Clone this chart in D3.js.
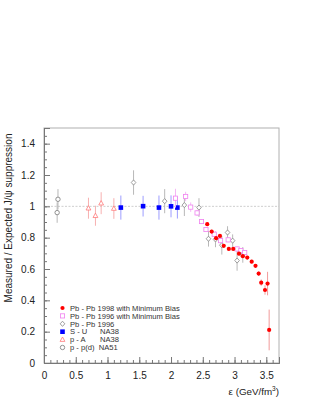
<!DOCTYPE html>
<html>
<head>
<meta charset="utf-8">
<script src="https://cdnjs.cloudflare.com/ajax/libs/d3/7.8.5/d3.min.js"></script>
<style>
  body { margin: 0; background: #fff; }
  svg text { font-family: "Liberation Sans", Arial, sans-serif; }
</style>
</head>
<body>
<script>
// [energy density, measured/expected, error]
const pbpb98 = [
  [2.57, 0.886, 0.012], [2.64, 0.839, 0.012], [2.71, 0.797, 0.012], [2.77, 0.811, 0.012],
  [2.83, 0.748, 0.012], [2.91, 0.728, 0.012], [2.98, 0.728, 0.012], [3.07, 0.698, 0.012],
  [3.13, 0.682, 0.012], [3.20, 0.673, 0.012], [3.27, 0.647, 0.012], [3.33, 0.620, 0.012],
  [3.38, 0.571, 0.015], [3.42, 0.513, 0.02], [3.48, 0.466, 0.03], [3.52, 0.507, 0.075],
  [3.545, 0.211, 0.13]
];
const pbpb96mb = [
  [2.07, 1.052, 0.06], [2.23, 1.063, 0.03], [2.31, 0.995, 0.03], [2.41, 0.958, 0.02],
  [2.48, 0.903, 0.015], [2.55, 0.852, 0.015], [2.68, 0.822, 0.015], [2.78, 0.781, 0.015],
  [2.90, 0.786, 0.015], [3.04, 0.728, 0.015], [3.10, 0.717, 0.015], [3.16, 0.705, 0.015]
];
const pbpb96 = [
  [1.41, 1.152, 0.078], [1.90, 1.033, 0.077], [2.21, 1.008, 0.07], [2.44, 0.992, 0.06],
  [2.59, 0.793, 0.05], [2.70, 0.789, 0.05], [2.80, 0.752, 0.06], [2.89, 0.833, 0.04],
  [2.97, 0.781, 0.04], [3.04, 0.654, 0.065], [3.13, 0.69, 0.05]
];
const su = [
  [1.21, 0.992, 0.077], [1.56, 1.001, 0.066], [1.81, 0.992, 0.077], [2.00, 1.0, 0.07], [2.10, 0.992, 0.07]
];
const pA = [
  [0.70, 0.988, 0.067], [0.81, 0.94, 0.064], [0.90, 1.02, 0.07], [1.10, 0.986, 0.066]
];
const pp = [
  [0.207, 0.96, 0.065], [0.22, 1.045, 0.065]
];

const xTicks = [0, 0.5, 1, 1.5, 2, 2.5, 3, 3.5];
const yTicks = [0, 0.2, 0.4, 0.6, 0.8, 1, 1.2, 1.4];

const series = [
  { name: "Pb - Pb 1998 with Minimum Bias", data: pbpb98, shape: "circleFilled", color: "#ff0000", bar: "#f29a9a" },
  { name: "Pb - Pb 1996 with Minimum Bias", data: pbpb96mb, shape: "square", color: "#f080f0", bar: "#f5b5f5" },
  { name: "Pb - Pb 1996", data: pbpb96, shape: "diamond", color: "#888888", bar: "#b8b8b8" },
  { name: "S - U      NA38", data: su, shape: "squareFilled", color: "#0000ff", bar: "#9d9dff" },
  { name: "p - A       NA38", data: pA, shape: "triangle", color: "#ff7a7a", bar: "#f7b0b0" },
  { name: "p - p(d)  NA51", data: pp, shape: "circle", color: "#777777", bar: "#b8b8b8" }
];

const W = 315, H = 407;
const plotLeft = 44, plotRight = 279, plotTop = 128, plotBottom = 363;

const svg = d3.select("body").append("svg").attr("width", W).attr("height", H);

const x = d3.scaleLinear().domain([0, 3.7]).range([plotLeft, plotRight]);
const y = d3.scaleLinear().domain([0, 1.5]).range([plotBottom, plotTop]);

// frame
svg.append("rect")
  .attr("x", plotLeft).attr("y", plotTop)
  .attr("width", plotRight - plotLeft).attr("height", plotBottom - plotTop)
  .attr("fill", "none").attr("stroke", "#b0b0b0").attr("stroke-width", 1);

// reference line at 1
svg.append("line")
  .attr("x1", plotLeft).attr("x2", plotRight)
  .attr("y1", y(1)).attr("y2", y(1))
  .attr("stroke", "#c0c0c0").attr("stroke-width", 0.8)
  .attr("stroke-dasharray", "2,1.5");

// axes (ticks pointing inwards)
const xMinor = d3.range(0, 3.71, 0.1).map(v => +v.toFixed(2));
const yMinor = d3.range(0, 1.51, 0.05).map(v => +v.toFixed(2));

const gx = svg.append("g").attr("transform", `translate(0,${plotBottom})`);
gx.call(d3.axisBottom(x).tickValues(xMinor).tickSize(-3).tickFormat(""));
gx.append("g").call(d3.axisBottom(x).tickValues(xTicks).tickSize(-6).tickPadding(9)
  .tickFormat(d3.format("~g")));

const gy = svg.append("g").attr("transform", `translate(${plotLeft},0)`);
gy.call(d3.axisLeft(y).tickValues(yMinor).tickSize(-3).tickFormat(""));
gy.append("g").call(d3.axisLeft(y).tickValues(yTicks).tickSize(-6).tickPadding(9)
  .tickFormat(d3.format("~g")));

svg.selectAll(".domain").attr("stroke", "#777");
svg.selectAll(".tick line").attr("stroke", "#777");
svg.selectAll(".tick text").attr("font-size", 10).attr("fill", "#222")
  .attr("font-family", "Liberation Sans, Arial, sans-serif");

// axis titles
svg.append("text")
  .attr("transform", `translate(12,218) rotate(-90)`)
  .attr("text-anchor", "middle").attr("font-size", 10).attr("fill", "#222")
  .text("Measured / Expected  J/\u03C8 suppression");

const xt = svg.append("text")
  .attr("x", plotRight).attr("y", 395)
  .attr("text-anchor", "end").attr("font-size", 9.8).attr("fill", "#222");
xt.append("tspan").text("\u03B5  (GeV/fm");
xt.append("tspan").attr("font-size", 6.5).attr("dy", -4).text("3");
xt.append("tspan").attr("dy", 4).text(")");

function drawMarker(g, shape, color, cx, cy) {
  const s = 2.1;
  if (shape === "circleFilled") {
    g.append("circle").attr("cx", cx).attr("cy", cy).attr("r", 2.1).attr("fill", color);
  } else if (shape === "circle") {
    g.append("circle").attr("cx", cx).attr("cy", cy).attr("r", 2.2)
      .attr("fill", "#fff").attr("stroke", color).attr("stroke-width", 0.8);
  } else if (shape === "square") {
    g.append("rect").attr("x", cx - s).attr("y", cy - s).attr("width", 2 * s).attr("height", 2 * s)
      .attr("fill", "#fff").attr("stroke", color).attr("stroke-width", 0.8);
  } else if (shape === "squareFilled") {
    g.append("rect").attr("x", cx - 2.3).attr("y", cy - 2.3).attr("width", 4.6).attr("height", 4.6)
      .attr("fill", color);
  } else if (shape === "diamond") {
    g.append("path").attr("d", `M${cx},${cy - 2.6}L${cx + 2.3},${cy}L${cx},${cy + 2.6}L${cx - 2.3},${cy}Z`)
      .attr("fill", "#fff").attr("stroke", color).attr("stroke-width", 0.8);
  } else if (shape === "triangle") {
    g.append("path").attr("d", `M${cx},${cy - 2.6}L${cx + 2.4},${cy + 1.8}L${cx - 2.4},${cy + 1.8}Z`)
      .attr("fill", "#fff").attr("stroke", color).attr("stroke-width", 0.8);
  }
}

// error bars, then markers (later series drawn first so Pb-Pb 98 is on top)
const plot = svg.append("g");
series.slice().reverse().forEach(s => {
  const g = plot.append("g");
  g.selectAll("line").data(s.data).join("line")
    .attr("x1", d => x(d[0])).attr("x2", d => x(d[0]))
    .attr("y1", d => y(d[1] - d[2])).attr("y2", d => y(d[1] + d[2]))
    .attr("stroke", s.bar).attr("stroke-width", 1);
  s.data.forEach(d => drawMarker(g, s.shape, s.color, x(d[0]), y(d[1])));
});

// legend
const leg = svg.append("g");
series.forEach((s, i) => {
  const ly = 308 + i * 7.9;
  drawMarker(leg, s.shape, s.color, 62.5, ly);
  leg.append("text").attr("x", 70).attr("y", ly + 2.7)
    .attr("font-size", 7.6).attr("fill", "#333")
    .attr("xml:space", "preserve").style("white-space", "pre")
    .text(s.name);
});
</script>
</body>
</html>
